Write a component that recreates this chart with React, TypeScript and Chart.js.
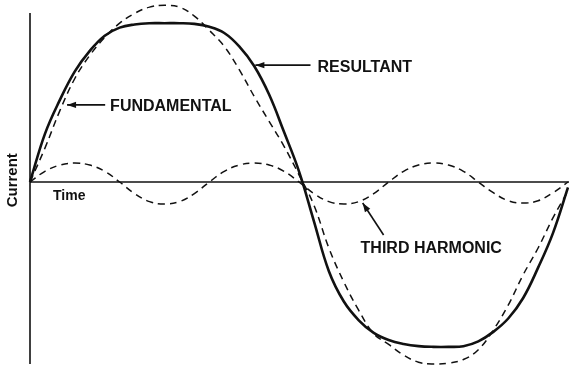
import { useEffect, useRef } from "react";
import { Chart, registerables } from "chart.js";

Chart.register(...registerables);

// Phase angle (degrees) along the time axis
const angles = [0, 10, 20, 30, 40, 50, 60, 70, 80, 90, 100, 110, 120, 130, 140, 150, 160, 170, 180,
  190, 200, 210, 220, 230, 240, 250, 260, 270, 280, 290, 300, 310, 320, 330, 340, 350, 360];

// Current values (fundamental peak ≈ 100)
const fundamental = [0, 19, 40, 58, 71, 81, 89, 94.5, 98, 99, 98, 93, 85, 76, 63, 48, 34, 20, 4,
  -13, -37, -56, -72, -85, -91, -97, -101, -102, -101.5, -99.5, -94, -83, -69, -52, -37, -20, -5];

const thirdHarmonic = [0, 6, 9.5, 10.6, 9.5, 6, 0, -6.5, -11, -12.3, -11, -6.5, 0,
  6, 9.5, 10.6, 9.5, 6, 0, -6.5, -11, -12.3, -11, -6.5, 0,
  6, 9.5, 10.6, 9.5, 6, 0, -6, -10.5, -11.8, -10.5, -6, 0];

const resultant = [0, 27, 46, 62, 73.5, 82, 86.5, 88.3, 89, 89, 89, 88.6, 87, 83.5, 76, 65, 49, 28, 6,
  -22, -50, -67, -77.5, -84.6, -88.6, -90.8, -92, -92.4, -92.4, -92, -89.3, -84, -76.5, -65, -48, -28.5, -3];

// Axis extents (data units)
const currentAxisSpan = [94.7, -102];
const timeAxisSpan = [0, 362];

const axisTitles = ["Current", "Time"];
const seriesNames = ["FUNDAMENTAL", "RESULTANT", "THIRD HARMONIC"];

const INK = "#111";

type Ann = { text: string; tx: number; ty: number; from: [number, number]; to: [number, number] };

const annotations: Ann[] = [
  { text: seriesNames[0], tx: 53.6, ty: 42.2, from: [50.3, 43.2], to: [24.8, 43.2] },
  { text: seriesNames[1], tx: 192.4, ty: 64, from: [187.7, 65.5], to: [150.8, 65.5] },
  { text: seriesNames[2], tx: 221.2, ty: -37.4, from: [236.6, -29.7], to: [222.6, -11.8] },
];

const labelPlugin = {
  id: "labels",
  afterDatasetsDraw(chart: any) {
    const ctx = chart.ctx as CanvasRenderingContext2D;
    const xs = chart.scales.x;
    const ys = chart.scales.y;
    const px = (v: number) => xs.getPixelForValue(v);
    const py = (v: number) => ys.getPixelForValue(v);
    ctx.save();
    ctx.fillStyle = INK;
    ctx.strokeStyle = INK;
    ctx.textBaseline = "middle";
    ctx.textAlign = "left";

    for (const a of annotations) {
      ctx.font = "bold 16px 'Liberation Sans', Arial, sans-serif";
      ctx.fillText(a.text, px(a.tx), py(a.ty));
      const x1 = px(a.from[0]), y1 = py(a.from[1]);
      const x2 = px(a.to[0]), y2 = py(a.to[1]);
      ctx.lineWidth = 1.6;
      ctx.beginPath();
      ctx.moveTo(x1, y1);
      ctx.lineTo(x2, y2);
      ctx.stroke();
      const ang = Math.atan2(y2 - y1, x2 - x1);
      const len = 9, w = 3.2;
      ctx.beginPath();
      ctx.moveTo(x2, y2);
      ctx.lineTo(x2 - len * Math.cos(ang) + w * Math.sin(ang), y2 - len * Math.sin(ang) - w * Math.cos(ang));
      ctx.lineTo(x2 - len * Math.cos(ang) - w * Math.sin(ang), y2 - len * Math.sin(ang) + w * Math.cos(ang));
      ctx.closePath();
      ctx.fill();
    }

    // Time label
    ctx.font = "bold 14px 'Liberation Sans', Arial, sans-serif";
    ctx.fillText(axisTitles[1], px(15.4), py(-7.8));

    // Current label (vertical)
    ctx.save();
    ctx.translate(px(0) - 17, py(1));
    ctx.rotate(-Math.PI / 2);
    ctx.textAlign = "center";
    ctx.font = "bold 15px 'Liberation Sans', Arial, sans-serif";
    ctx.fillText(axisTitles[0], 0, 0);
    ctx.restore();

    ctx.restore();
  },
};

export default function App() {
  const ref = useRef<HTMLCanvasElement | null>(null);

  useEffect(() => {
    document.body.style.margin = "0";
    if (!ref.current) return;
    const pts = (vals: number[]) => angles.map((a, i) => ({ x: a, y: vals[i] }));
    const chart = new Chart(ref.current, {
      type: "line",
      data: {
        datasets: [
          {
            label: "axisY",
            data: [{ x: 0, y: currentAxisSpan[0] }, { x: 0, y: currentAxisSpan[1] }],
            borderColor: INK, borderWidth: 1.6, pointRadius: 0, tension: 0, clip: false as any,
          },
          {
            label: "axisX",
            data: [{ x: timeAxisSpan[0], y: 0 }, { x: timeAxisSpan[1], y: 0 }],
            borderColor: INK, borderWidth: 1.6, pointRadius: 0, tension: 0, clip: false as any,
          },
          {
            label: seriesNames[0],
            data: pts(fundamental),
            borderColor: INK, borderWidth: 1.5, borderDash: [7, 5], pointRadius: 0,
            tension: 0.4, clip: false as any,
          },
          {
            label: seriesNames[2],
            data: pts(thirdHarmonic),
            borderColor: INK, borderWidth: 1.5, borderDash: [7, 5], pointRadius: 0,
            tension: 0.4, clip: false as any,
          },
          {
            label: seriesNames[1],
            data: pts(resultant),
            borderColor: INK, borderWidth: 2.6, pointRadius: 0,
            tension: 0.4, clip: false as any,
          },
        ],
      },
      options: {
        animation: false,
        responsive: false,
        devicePixelRatio: 1,
        layout: { padding: { left: 30, right: 1, top: 0, bottom: 5 } },
        plugins: { legend: { display: false }, tooltip: { enabled: false } },
        scales: {
          x: { type: "linear", min: 0, max: 360, display: false },
          y: { type: "linear", min: -102, max: 102, display: false },
        },
      },
      plugins: [labelPlugin],
    });
    return () => chart.destroy();
  }, []);

  return (
    <div style={{ width: 569, height: 369, background: "#fff" }}>
      <canvas ref={ref} width={569} height={369} />
    </div>
  );
}
